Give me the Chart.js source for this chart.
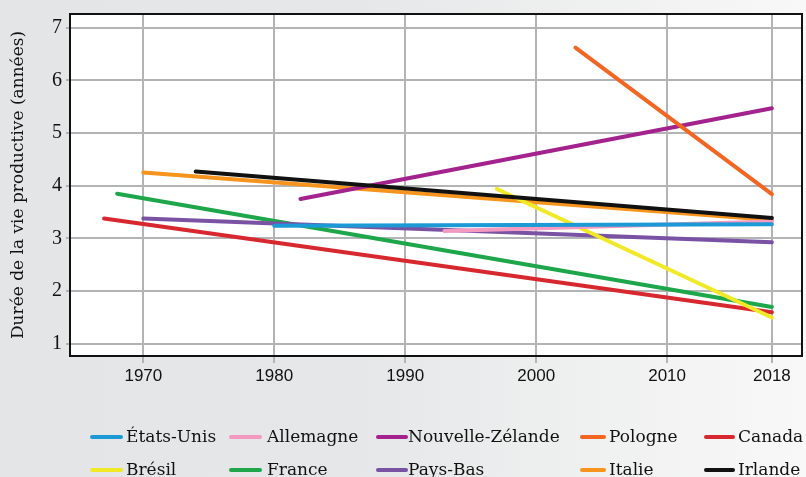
<!DOCTYPE html>
<html lang="fr">
<head>
<meta charset="utf-8">
<script src="https://cdn.jsdelivr.net/npm/chart.js@4"></script>
<style>
  html, body { margin: 0; padding: 0; }
  body { background: linear-gradient(90deg, #e4e5e6 0%, #e6e7e8 45%, #f8f8f8 100%); }
  #wrap { position: relative; width: 806px; height: 477px; }
</style>
</head>
<body>
<div id="wrap"><canvas id="chart"></canvas></div>
<script>
// Données : chaque pays = une droite entre une année de départ et 2018
const countries = ['États-Unis', 'Allemagne', 'Nouvelle-Zélande', 'Pologne', 'Canada',
                   'Brésil', 'France', 'Pays-Bas', 'Italie', 'Irlande'];
const startYears  = [1980, 1993, 1982, 2003, 1967, 1997, 1968, 1970, 1970, 1974];
const endYears    = [2018, 2018, 2018, 2018, 2018, 2018, 2018, 2018, 2018, 2018];
const startValues = [3.24, 3.14, 3.75, 6.62, 3.38, 3.94, 3.85, 3.38, 4.25, 4.27];
const endValues   = [3.27, 3.32, 5.47, 3.84, 1.60, 1.50, 1.70, 2.93, 3.35, 3.39];

const xTicks = [1970, 1980, 1990, 2000, 2010, 2018];
const yTicks = [1, 2, 3, 4, 5, 6, 7];

const colors = ['#1b9ad6', '#f49ac1', '#a3228d', '#f26522', '#d7282f',
                '#f1e925', '#1ea64b', '#7a52a3', '#f7941d', '#111111'];
const drawOrder = [2, 3, 5, 1, 6, 4, 7, 6, 8, 0];

// Fond blanc + cadre noir de la zone de tracé
const plotBox = {
    id: 'plotBox',
    beforeDraw(chart) {
        const { ctx, chartArea: a } = chart;
        ctx.save();
        ctx.fillStyle = '#ffffff';
        ctx.fillRect(a.left, a.top, a.right - a.left, a.bottom - a.top);
        ctx.restore();
    },
    afterDraw(chart) {
        const { ctx, chartArea: a } = chart;
        ctx.save();
        ctx.strokeStyle = '#111';
        ctx.lineWidth = 2;
        ctx.strokeRect(a.left, a.top, a.right - a.left, a.bottom - a.top);
        ctx.restore();
    }
};

// Légende en grille (2 lignes x 5 colonnes)
const gridLegend = {
    id: 'gridLegend',
    afterDraw(chart) {
        const ctx = chart.ctx;
        const lineX = [92, 231, 378, 582, 706];
        const lineEnd = [121, 260, 406, 604, 733];
        const textX = [126, 267, 408, 609, 738];
        const rowY = [437, 470];
        ctx.save();
        ctx.font = '17px "DejaVu Serif"';
        ctx.textBaseline = 'middle';
        ctx.textAlign = 'left';
        chart.data.datasets.forEach((ds, i) => {
            const col = i % 5, row = Math.floor(i / 5);
            ctx.strokeStyle = ds.borderColor;
            ctx.lineWidth = 4;
            ctx.lineCap = 'round';
            ctx.beginPath();
            ctx.moveTo(lineX[col], rowY[row]);
            ctx.lineTo(lineEnd[col], rowY[row]);
            ctx.stroke();
            ctx.fillStyle = '#111';
            ctx.fillText(ds.label, textX[col], rowY[row] + 1);
        });
        ctx.restore();
    }
};

const datasets = countries.map((name, i) => ({
    label: name,
    data: [
        { x: startYears[i], y: startValues[i] },
        { x: endYears[i], y: endValues[i] }
    ],
    borderColor: colors[i],
    backgroundColor: colors[i],
    borderWidth: 4,
    borderCapStyle: 'round',
    pointRadius: 0,
    fill: false,
    order: drawOrder[i]
}));

new Chart(document.getElementById('chart').getContext('2d'), {
    type: 'line',
    data: { datasets },
    options: {
        responsive: true,
        maintainAspectRatio: false,
        animation: false,
        layout: { padding: { top: 13, right: 4, left: 0, bottom: 0 } },
        plugins: {
            legend: { display: false },
            tooltip: { enabled: false }
        },
        scales: {
            x: {
                type: 'linear',
                min: 1964.4,
                max: 2020.3,
                afterBuildTicks: scale => { scale.ticks = xTicks.map(v => ({ value: v })); },
                afterFit: scale => { scale.height = 121; },
                border: { display: false },
                grid: { color: '#b2b4b6', lineWidth: 2, tickLength: 7 },
                ticks: {
                    callback: v => String(v),
                    font: { family: '"Liberation Sans"', size: 17 },
                    color: '#111',
                    padding: 3,
                    maxRotation: 0
                }
            },
            y: {
                min: 0.77,
                max: 7.26,
                afterBuildTicks: scale => { scale.ticks = yTicks.map(v => ({ value: v })); },
                afterFit: scale => { scale.width = 70; },
                border: { display: false },
                grid: { color: '#b2b4b6', lineWidth: 2, tickLength: 4 },
                ticks: {
                    font: { family: '"Liberation Serif"', size: 20, lineHeight: 1 },
                    color: '#111',
                    padding: 4
                },
                title: {
                    display: true,
                    text: 'Durée de la vie productive (années)',
                    font: { family: '"DejaVu Serif"', size: 17 },
                    color: '#111',
                    padding: { top: 8, bottom: 0 }
                }
            }
        }
    },
    plugins: [plotBox, gridLegend]
});
</script>
</body>
</html>
